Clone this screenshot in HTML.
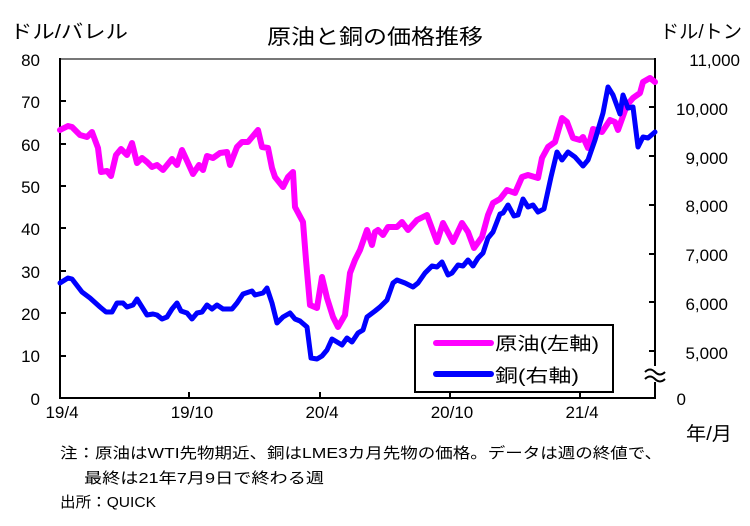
<!DOCTYPE html>
<html><head><meta charset="utf-8"><style>
html,body{margin:0;padding:0;background:#fff;}
svg{display:block;font-family:"Liberation Sans","Noto Sans CJK JP",sans-serif;}
</style></head><body>
<svg width="750" height="526" viewBox="0 0 750 526" xmlns="http://www.w3.org/2000/svg">
<rect width="750" height="526" fill="#fff"/>
<text x="375" y="44" font-size="21" text-anchor="middle" textLength="216" lengthAdjust="spacingAndGlyphs">原油と銅の価格推移</text>
<text x="10" y="38" font-size="19" textLength="118" lengthAdjust="spacingAndGlyphs">ドル/バレル</text>
<text x="660" y="38" font-size="19" textLength="82" lengthAdjust="spacingAndGlyphs">ドル/トン</text>
<g font-size="17" text-anchor="end">
<text x="40" y="66">80</text><text x="40" y="108">70</text><text x="40" y="151">60</text><text x="40" y="193">50</text><text x="40" y="235">40</text><text x="40" y="278">30</text><text x="40" y="320">20</text><text x="40" y="362">10</text><text x="40" y="405">0</text>
</g>
<g font-size="17" text-anchor="end">
<text x="740" y="66">11,000</text><text x="728" y="115">10,000</text><text x="728" y="164">9,000</text><text x="728" y="212">8,000</text><text x="728" y="261">7,000</text><text x="728" y="310">6,000</text><text x="728" y="359">5,000</text><text x="686" y="405">0</text>
</g>
<g font-size="17" text-anchor="middle">
<text x="62" y="418">19/4</text><text x="192" y="418">19/10</text><text x="322" y="418">20/4</text><text x="452" y="418">20/10</text><text x="582" y="418">21/4</text>
</g>
<text x="686" y="440" font-size="19" textLength="46" lengthAdjust="spacingAndGlyphs">年/月</text>
<g font-size="15">
<text x="60" y="458" textLength="602" lengthAdjust="spacingAndGlyphs">注：原油はWTI先物期近、銅はLME3カ月先物の価格。データは週の終値で、</text>
<text x="84" y="483" textLength="240" lengthAdjust="spacingAndGlyphs">最終は21年7月9日で終わる週</text>
<text x="60" y="507" textLength="96" lengthAdjust="spacingAndGlyphs">出所：QUICK</text>
</g>
<line x1="60" y1="59" x2="655" y2="59" stroke="#777" stroke-width="2"/>
<line x1="60" y1="58" x2="60" y2="399" stroke="#000" stroke-width="2"/>
<line x1="59" y1="398" x2="656" y2="398" stroke="#000" stroke-width="2"/>
<line x1="655" y1="58" x2="655" y2="399" stroke="#000" stroke-width="2"/>
<g stroke="#000" stroke-width="2">
<line x1="60" y1="101" x2="66" y2="101"/><line x1="60" y1="144" x2="66" y2="144"/><line x1="60" y1="186" x2="66" y2="186"/><line x1="60" y1="228" x2="66" y2="228"/><line x1="60" y1="271" x2="66" y2="271"/><line x1="60" y1="313" x2="66" y2="313"/><line x1="60" y1="356" x2="66" y2="356"/>
<line x1="649" y1="107" x2="655" y2="107"/><line x1="649" y1="156" x2="655" y2="156"/><line x1="649" y1="205" x2="655" y2="205"/><line x1="649" y1="254" x2="655" y2="254"/><line x1="649" y1="302" x2="655" y2="302"/><line x1="649" y1="351" x2="655" y2="351"/>
<line x1="189" y1="392" x2="189" y2="398"/><line x1="320" y1="392" x2="320" y2="398"/><line x1="450" y1="392" x2="450" y2="398"/><line x1="580" y1="392" x2="580" y2="398"/>
</g>
<polyline fill="none" stroke="#ff00ff" stroke-width="6" stroke-linejoin="round" stroke-linecap="round" points="60,130 68,126 72,127 80,135 87,137 92,132 98,148 101,172 107,171 111,176 116,155 121,149 127,155 132,143 137,163 142,158 147,162 152,167 157,165 163,170 172,159 177,165 182,150 188,163 193,174 199,165 203,170 207,156 213,158 220,153 227,152 230,165 237,147 242,142 248,142 258,130 262,147 268,148 272,168 275,177 283,187 288,177 293,172 295,207 303,222 306,260 310,305 317,308 322,277 327,298 333,317 338,327 345,315 350,273 355,260 360,250 367,230 372,245 375,232 378,230 383,235 388,227 397,227 402,222 408,230 417,220 427,215 437,242 443,223 453,242 462,223 468,232 474,248 482,237 488,215 493,203 500,199 507,190 515,193 522,177 528,175 538,178 542,158 548,147 555,142 562,118 567,122 573,138 580,140 583,137 588,148 593,129 602,132 610,120 615,122 618,130 627,105 633,98 640,93 643,82 650,78 655,82"/>
<polyline fill="none" stroke="#0000ff" stroke-width="5" stroke-linejoin="round" stroke-linecap="round" points="60,283 68,278 72,279 82,292 90,298 100,307 106,312 112,312 117,303 123,303 127,307 133,305 137,299 142,307 147,315 153,314 157,315 162,319 167,317 172,309 177,303 181,311 187,313 192,319 197,313 202,312 207,305 212,309 217,305 223,309 232,309 237,303 243,294 252,291 255,295 263,293 267,288 272,303 277,323 283,317 290,313 295,319 300,321 307,327 311,358 317,359 322,356 327,350 332,339 337,342 342,345 347,338 352,342 358,333 363,330 367,317 375,311 380,307 387,300 393,283 397,280 405,283 413,287 418,283 425,273 432,266 437,267 442,262 448,275 452,273 458,265 463,266 468,260 473,266 478,258 483,253 488,238 493,232 500,214 503,213 508,205 514,216 518,215 523,199 528,207 533,205 538,212 544,209 551,177 557,152 562,160 568,152 575,157 583,166 588,160 595,140 603,113 608,87 613,95 620,114 623,95 628,108 633,107 638,147 643,137 648,138 655,132"/>
<rect x="415" y="325" width="198" height="67" fill="#fff" stroke="#000" stroke-width="2"/>
<line x1="436" y1="343" x2="491" y2="343" stroke="#ff00ff" stroke-width="6" stroke-linecap="round"/>
<line x1="436" y1="374" x2="491" y2="374" stroke="#0000ff" stroke-width="6" stroke-linecap="round"/>
<text x="495" y="350" font-size="18" textLength="104" lengthAdjust="spacingAndGlyphs">原油(左軸)</text>
<text x="495" y="382" font-size="18" textLength="84" lengthAdjust="spacingAndGlyphs">銅(右軸)</text>
<rect x="644" y="366" width="24" height="16" fill="#fff"/>
<path d="M645,372 q5,-5 10,0 t10,0 M645,379 q5,-5 10,0 t10,0" fill="none" stroke="#000" stroke-width="2"/>
</svg>
</body></html>
